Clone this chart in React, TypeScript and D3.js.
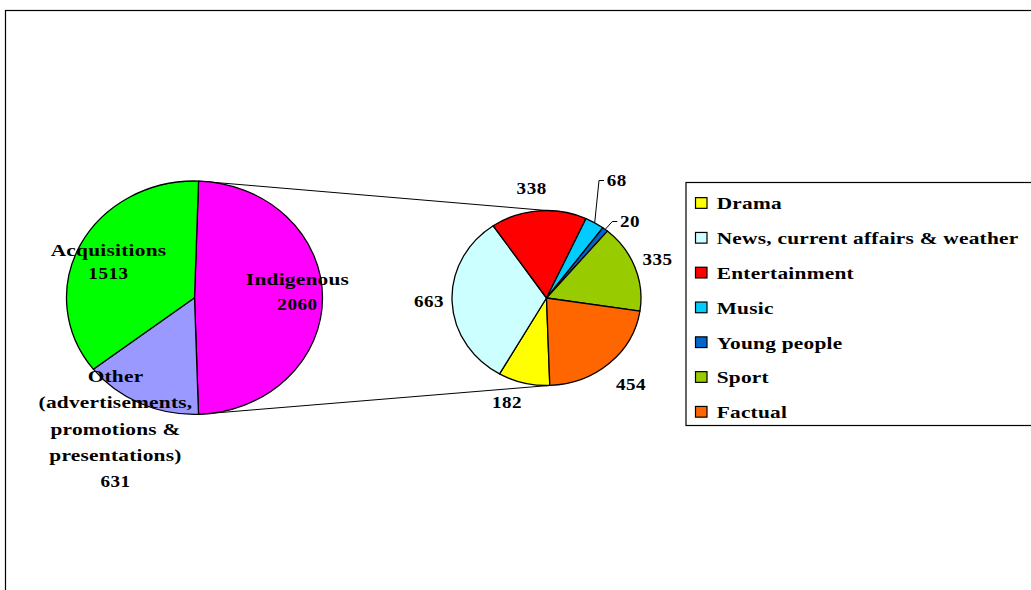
import React from 'react';
import * as d3 from 'd3';

// Programme hours: main split, with "Indigenous" broken out into a second pie
const mainCategories = ['Indigenous', 'Other', 'Acquisitions'];
const mainValues = [2060, 631, 1513];
const mainColors = ['#FF00FF', '#9999FF', '#00FF00'];
const mainLabelLines = [
  ['Indigenous'],
  ['Other', '(advertisements,', 'promotions &', 'presentations)'],
  ['Acquisitions'],
];

const subCategories = [
  'Drama',
  'News, current affairs & weather',
  'Entertainment',
  'Music',
  'Young people',
  'Sport',
  'Factual',
];
const subValues = [182, 663, 338, 68, 20, 335, 454];
const subColors = ['#FFFF00', '#CCFFFF', '#FF0000', '#00CCFF', '#0066CC', '#99CC00', '#FF6600'];

// ---- layout ----
const W = 1031;
const H = 590;
const SX_WORD = 1.22; // horizontal stretch for word labels
const SX_NUM = 1.09; // horizontal stretch for numeric labels
const FONT = 'Liberation Serif';
const FS = 17.5;

const MAIN = { cx: 194.5, cy: 297.7, rx: 128, ry: 116.7 };
const SUB = { cx: 546.5, cy: 298, rx: 94.5, ry: 87.5, start: (178 * Math.PI) / 180 };
const R = 100;

// label anchors (offset from pie centre): [dx, dy of first baseline, line gap]
const mainLabelPos: [number, number, number][] = [
  [103, -12.7, 25],
  [-79, 84, 26.4],
  [-86, -42, 23.6],
];
// [dx, dy, anchor]
const subLabelPos: [number, number, 'middle' | 'start'][] = [
  [-39.5, 110.3, 'middle'],
  [-117.5, 8.7, 'middle'],
  [-14.8, -103.7, 'middle'],
  [60.2, -112.3, 'start'],
  [73.5, -71.3, 'start'],
  [111, -33, 'middle'],
  [84.5, 92, 'middle'],
];
const leaderIdx = [3, 4];

const LEGEND = { x: 686, y: 182.5, w: 400, h: 243, rowY0: 203, rowStep: 34.8, sq: 11.5, sqH: 10.7 };

function pt(p: { cx: number; cy: number; rx: number; ry: number }, a: number, k = 1) {
  return [p.cx + p.rx * k * Math.sin(a), p.cy - p.ry * k * Math.cos(a)];
}

function Txt({ x, y, children, anchor = 'middle', num = false }: any) {
  return (
    <text
      transform={`translate(${x},${y}) scale(${num ? SX_NUM : SX_WORD},1)`}
      textAnchor={anchor}
      fontFamily={FONT}
      fontWeight="bold"
      fontSize={FS}
      letterSpacing={num ? 0.5 : 0.2}
      fill="#000"
    >
      {children}
    </text>
  );
}

export default function App() {
  const mainTotal = d3.sum(mainValues);
  const mainStart = Math.PI / 2 - (mainValues[0] / mainTotal) * Math.PI;
  const mainArcs = d3
    .pie<number>()
    .sort(null)
    .value((d) => d)
    .startAngle(mainStart)
    .endAngle(mainStart + 2 * Math.PI)(mainValues);

  const subArcs = d3
    .pie<number>()
    .sort(null)
    .value((d) => d)
    .startAngle(SUB.start)
    .endAngle(SUB.start + 2 * Math.PI)(subValues);

  const arc = d3.arc<d3.PieArcDatum<number>>().innerRadius(0).outerRadius(R);

  const exploded = mainArcs[0];
  const [tx0, ty0] = pt(MAIN, exploded.startAngle);
  const [bx0, by0] = pt(MAIN, exploded.endAngle);
  const [tx1, ty1] = pt(SUB, 0);
  const [bx1, by1] = pt(SUB, SUB.start);

  return (
    <div style={{ position: 'absolute', left: 0, top: 0 }}>
      <svg width={W} height={H} style={{ display: 'block', background: '#fff' }}>
        <rect x={5.5} y={10.5} width={W + 50} height={H + 50} fill="none" stroke="#000" strokeWidth={1.2} />

        {/* connectors between the exploded slice and the secondary pie */}
        <line x1={tx0} y1={ty0} x2={tx1} y2={ty1} stroke="#000" strokeWidth={1} />
        <line x1={bx0} y1={by0} x2={bx1} y2={by1} stroke="#000" strokeWidth={1} />

        {/* main pie */}
        <g transform={`translate(${MAIN.cx},${MAIN.cy}) scale(${MAIN.rx / R},${MAIN.ry / R})`}>
          {mainArcs.map((a, i) => (
            <path
              key={mainCategories[i]}
              d={arc(a) || ''}
              fill={mainColors[i]}
              stroke="#000"
              strokeWidth={1.3}
              vectorEffect="non-scaling-stroke"
              strokeLinejoin="round"
            />
          ))}
        </g>

        {/* secondary pie */}
        <g transform={`translate(${SUB.cx},${SUB.cy}) scale(${SUB.rx / R},${SUB.ry / R})`}>
          {subArcs.map((a, i) => (
            <path
              key={subCategories[i]}
              d={arc(a) || ''}
              fill={subColors[i]}
              stroke="#000"
              strokeWidth={1.3}
              vectorEffect="non-scaling-stroke"
              strokeLinejoin="round"
            />
          ))}
        </g>

        {/* main pie labels */}
        {mainArcs.map((a, i) => {
          const [dx, dy, gap] = mainLabelPos[i];
          const lines = [...mainLabelLines[i], String(mainValues[i])];
          return (
            <g key={'ml' + i}>
              {lines.map((ln, j) => (
                <Txt
                  key={j}
                  x={MAIN.cx + dx}
                  y={MAIN.cy + dy + j * gap}
                  num={j === lines.length - 1}
                >
                  {ln}
                </Txt>
              ))}
            </g>
          );
        })}

        {/* secondary pie labels with leaders for the thin slices */}
        {subArcs.map((a, i) => {
          const [dx, dy, anchor] = subLabelPos[i];
          const lx = SUB.cx + dx;
          const ly = SUB.cy + dy;
          let leader = null;
          if (leaderIdx.includes(i)) {
            const mid = (a.startAngle + a.endAngle) / 2;
            const [ex, ey] = pt(SUB, mid);
            const elbowX = lx - 7.7;
            const elbowY = ly - 5.2;
            leader = (
              <polyline
                points={`${ex},${ey} ${elbowX},${elbowY} ${lx - 2.7},${elbowY}`}
                fill="none"
                stroke="#000"
                strokeWidth={1}
              />
            );
          }
          return (
            <g key={'sl' + i}>
              {leader}
              <Txt x={lx} y={ly} anchor={anchor} num>
                {String(subValues[i])}
              </Txt>
            </g>
          );
        })}

        {/* legend */}
        <rect
          x={LEGEND.x}
          y={LEGEND.y}
          width={LEGEND.w}
          height={LEGEND.h}
          fill="#fff"
          stroke="#000"
          strokeWidth={1.2}
        />
        {subCategories.map((c, i) => {
          const cy = LEGEND.rowY0 + i * LEGEND.rowStep;
          return (
            <g key={'lg' + i}>
              <rect
                x={LEGEND.x + 9.5}
                y={cy - LEGEND.sqH / 2}
                width={LEGEND.sq}
                height={LEGEND.sqH}
                fill={subColors[i]}
                stroke="#000"
                strokeWidth={1.2}
              />
              <Txt x={LEGEND.x + 30.7} y={cy + 6.3} anchor="start">
                {c}
              </Txt>
            </g>
          );
        })}
      </svg>
    </div>
  );
}
